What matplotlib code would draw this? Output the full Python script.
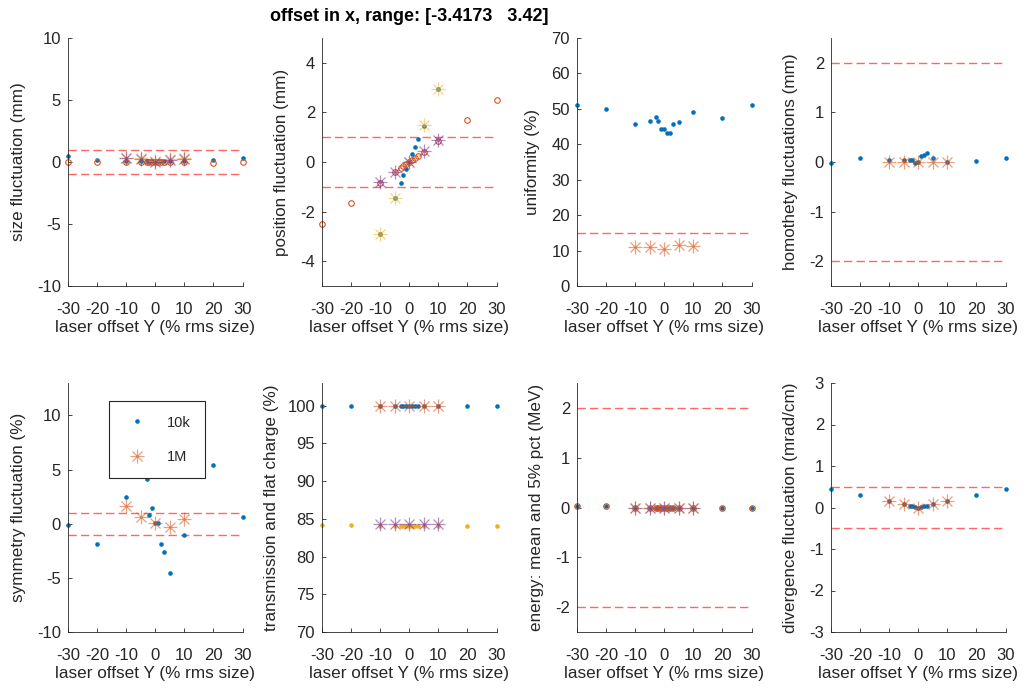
import numpy as np
import matplotlib
matplotlib.use("Agg")
import matplotlib.pyplot as plt
from matplotlib.transforms import Bbox, TransformedBbox
from matplotlib.legend_handler import HandlerTuple

plt.rcParams["font.family"] = ["Liberation Sans", "DejaVu Sans"]
plt.rcParams["axes.unicode_minus"] = False

# ---- offsets (% rms size) ----
x_10k = [-30, -20, -10, -5, -3, -2, -1, 0, 1, 2, 3, 5, 10, 20, 30]
x_1M = [-10, -5, 0, 5, 10]
x_ticks = [-30, -20, -10, 0, 10, 20, 30]

# ---- size fluctuation (mm) ----
size_a_10k = [0.5, 0.2, 0.05, 0.05, 0.05, 0.05, 0.05, 0.05, 0.05, 0.05, 0.05, 0.1, 0.05, 0.2, 0.3]
size_b_10k = [0.0, 0.0, 0.0, 0.0, 0.0, 0.0, 0.0, 0.0, 0.0, 0.0, 0.0, 0.0, 0.0, -0.07, 0.0]
size_a_1M = [0.35, 0.3, 0.05, 0.25, 0.3]
size_b_1M = [0.3, 0.25, 0.0, 0.2, 0.25]

# ---- position fluctuation (mm) ----
pos_a_10k = [-8.7, -5.8, -2.9, -1.45, -0.84, -0.54, -0.27, 0.0, 0.31, 0.61, 0.91, 1.45, 2.93, 5.8, 8.7]
pos_b_10k = [-2.48, -1.65, -0.84, -0.42, -0.25, -0.17, -0.08, 0.0, 0.08, 0.17, 0.25, 0.42, 0.84, 1.70, 2.52]
pos_a_1M = [-2.90, -1.44, 0.0, 1.49, 2.95]
pos_b_1M = [-0.81, -0.41, 0.0, 0.44, 0.87]

# ---- uniformity (%) ----
uni_10k = [51.0, 49.9, 45.8, 46.6, 47.7, 46.6, 44.4, 44.4, 43.3, 43.3, 45.8, 46.4, 49.2, 47.5, 51.0]
uni_1M = [11.0, 11.0, 10.5, 11.5, 11.2]

# ---- homothety fluctuations (mm) ----
hom_10k = [-0.02, 0.08, 0.05, 0.04, 0.05, 0.05, -0.02, 0.0, 0.13, 0.15, 0.19, 0.09, 0.0, 0.03, 0.09]
hom_1M = [-0.01, -0.01, -0.01, -0.01, -0.01]

# ---- symmetry fluctuation (%) ----
sym_10k = [-0.1, -1.9, 2.5, 7.0, 4.1, 0.8, 1.5, 0.1, 0.1, -1.9, -2.6, -4.55, -1.05, 5.45, 0.6]
sym_1M = [1.6, 0.65, 0.08, -0.3, 0.45]

# ---- transmission and flat charge (%) ----
tr_a_10k = [100.0] * 15
tr_a_1M = [100.0] * 5
tr_b_10k = [84.2, 84.15, 84.05, 84.05, 84.0, 84.0, 84.0, 84.0, 84.0, 84.0, 84.0, 84.05, 84.05, 84.1, 84.05]
tr_b_1M = [84.35, 84.35, 84.3, 84.35, 84.35]

# ---- energy: mean and 5% pct (MeV) ----
en_a_10k = [0.03, 0.03, 0.0, 0.0, 0.0, 0.0, 0.0, 0.0, 0.0, 0.0, 0.0, 0.0, 0.0, -0.02, -0.02]
en_b_10k = [0.03, 0.03, 0.0, 0.0, 0.0, 0.0, 0.0, 0.0, 0.0, 0.0, 0.0, 0.0, 0.0, -0.02, -0.02]
en_a_1M = [0.0, 0.0, 0.0, 0.0, 0.0]
en_b_1M = [0.0, 0.0, 0.0, 0.0, 0.0]

# ---- divergence fluctuation (mrad/cm) ----
div_10k = [0.45, 0.29, 0.165, 0.085, 0.04, 0.03, 0.02, 0.0, 0.02, 0.03, 0.04, 0.085, 0.165, 0.29, 0.45]
div_1M = [0.165, 0.085, 0.0, 0.085, 0.165]

BLUE = (0.0, 0.447, 0.741)
ORANGE = (0.850, 0.325, 0.098)
YELLOW = (0.929, 0.694, 0.125)
PURPLE = (0.494, 0.184, 0.556)
INK = (0.15, 0.15, 0.15)
LIMIT = (1.0, 0.4, 0.4)

W, H = 1027, 688
fig = plt.figure(figsize=(W / 100, H / 100), dpi=100)

col_left = [68, 322, 577, 831]
row_span = [(38, 286), (383, 632)]
ax_w = 174.5


def make_axes(row, col):
    top, bottom = row_span[row]
    rect = [col_left[col] / W, 1 - bottom / H, ax_w / W, (bottom - top) / H]
    ax = fig.add_axes(rect)
    for s in ("top", "right"):
        ax.spines[s].set_visible(False)
    for s in ("left", "bottom"):
        ax.spines[s].set_color(INK)
        ax.spines[s].set_linewidth(0.6)
    ax.tick_params(direction="in", length=3, width=0.6, colors=INK, labelsize=12)
    ax.tick_params(axis="x", pad=11.5)
    ax.tick_params(axis="y", pad=5)
    ax.set_xlim(-30, 30)
    ax.set_xticks(x_ticks)
    ax.set_xlabel("laser offset Y (% rms size)", fontsize=12.3, color=INK, labelpad=2)
    return ax


def clip_wide(ax, artists):
    box = TransformedBbox(Bbox.from_extents(-0.05, -0.02, 1.05, 1.02), ax.transAxes)
    for a in artists:
        a.set_clip_box(box)


def dots(ax, x, y, color):
    h, = ax.plot(x, y, ls="none", marker="o", ms=3.3, mfc=color, mec=color, mew=0)
    clip_wide(ax, [h])
    return h


def rings(ax, x, y, color):
    h, = ax.plot(x, y, ls="none", marker="o", ms=4.0, mfc="none", mec=color, mew=0.8)
    clip_wide(ax, [h])
    return h


def stars(ax, x, y, color):
    h1, = ax.plot(x, y, ls="none", marker="+", ms=10, mew=0.9, color=color, alpha=0.55)
    h2, = ax.plot(x, y, ls="none", marker="x", ms=7, mew=0.9, color=color, alpha=0.55)
    clip_wide(ax, [h1, h2])
    return (h1, h2)


def limits(ax, levels):
    for lv in levels:
        ax.plot([-30, 30], [lv, lv], ls=(0, (6, 3)), lw=1.0, color=LIMIT)


# size fluctuation
ax = make_axes(0, 0)
limits(ax, [1, -1])
dots(ax, x_10k, size_a_10k, BLUE)
rings(ax, x_10k, size_b_10k, ORANGE)
stars(ax, x_1M, size_a_1M, YELLOW)
stars(ax, x_1M, size_b_1M, PURPLE)
ax.set_ylim(-10, 10)
ax.set_yticks([-10, -5, 0, 5, 10])
ax.set_ylabel("size fluctuation (mm)", fontsize=12.3, color=INK, labelpad=8)

# position fluctuation
ax = make_axes(0, 1)
limits(ax, [1, -1])
dots(ax, x_10k, pos_a_10k, BLUE)
rings(ax, x_10k, pos_b_10k, ORANGE)
stars(ax, x_1M, pos_a_1M, YELLOW)
stars(ax, x_1M, pos_b_1M, PURPLE)
ax.set_ylim(-5, 5)
ax.set_yticks([-4, -2, 0, 2, 4])
ax.set_ylabel("position fluctuation (mm)", fontsize=12.3, color=INK, labelpad=8)
ax.set_title("offset in x, range: [-3.4173   3.42]", fontsize=13, fontweight="bold",
             color="black", pad=12.5)

# uniformity
ax = make_axes(0, 2)
limits(ax, [15, -15])
dots(ax, x_10k, uni_10k, BLUE)
stars(ax, x_1M, uni_1M, ORANGE)
ax.set_ylim(0, 70)
ax.set_yticks(range(0, 71, 10))
ax.set_ylabel("uniformity (%)", fontsize=12.3, color=INK, labelpad=8)

# homothety
ax = make_axes(0, 3)
limits(ax, [2, -2])
dots(ax, x_10k, hom_10k, BLUE)
stars(ax, x_1M, hom_1M, ORANGE)
ax.set_ylim(-2.5, 2.5)
ax.set_yticks([-2, -1, 0, 1, 2])
ax.set_ylabel("homothety fluctuations (mm)", fontsize=12.3, color=INK, labelpad=8)

# symmetry
ax = make_axes(1, 0)
limits(ax, [1, -1])
h_dot = dots(ax, x_10k, sym_10k, BLUE)
h_star = stars(ax, x_1M, sym_1M, ORANGE)
ax.set_ylim(-10, 13)
ax.set_yticks([-10, -5, 0, 5, 10])
ax.set_ylabel("symmetry fluctuation (%)", fontsize=12.3, color=INK, labelpad=8)
leg = ax.legend([h_dot, h_star], ["10k", "1M"],
                handler_map={tuple: HandlerTuple(ndivide=1, pad=0)},
                loc="upper left", bbox_to_anchor=(109 / W, 1 - 401 / H),
                bbox_transform=fig.transFigure, borderaxespad=0,
                fancybox=False, edgecolor=INK, framealpha=1, fontsize=10.5,
                handlelength=1.85, handletextpad=1.11,
                borderpad=1.0, labelspacing=1.39)
leg.get_frame().set_linewidth(0.8)
for t in leg.get_texts():
    t.set_color(INK)

# transmission and flat charge
ax = make_axes(1, 1)
dots(ax, x_10k, tr_a_10k, BLUE)
stars(ax, x_1M, tr_a_1M, ORANGE)
dots(ax, x_10k, tr_b_10k, YELLOW)
stars(ax, x_1M, tr_b_1M, PURPLE)
ax.set_ylim(70, 103)
ax.set_yticks(range(70, 101, 5))
ax.set_ylabel("transmission and flat charge (%)", fontsize=12.3, color=INK, labelpad=6)

# energy
ax = make_axes(1, 2)
limits(ax, [2, -2])
dots(ax, x_10k, en_a_10k, BLUE)
rings(ax, x_10k, en_b_10k, ORANGE)
stars(ax, x_1M, en_a_1M, YELLOW)
stars(ax, x_1M, en_b_1M, PURPLE)
ax.set_ylim(-2.5, 2.5)
ax.set_yticks([-2, -1, 0, 1, 2])
ax.set_ylabel("energy: mean and 5% pct (MeV)", fontsize=12.3, color=INK, labelpad=8)

# divergence
ax = make_axes(1, 3)
limits(ax, [0.5, -0.5])
dots(ax, x_10k, div_10k, BLUE)
stars(ax, x_1M, div_1M, ORANGE)
ax.set_ylim(-3, 3)
ax.set_yticks([-3, -2, -1, 0, 1, 2, 3])
ax.set_ylabel("divergence fluctuation (mrad/cm)", fontsize=12.3, color=INK, labelpad=8)

fig.savefig("out.png", dpi=100)
